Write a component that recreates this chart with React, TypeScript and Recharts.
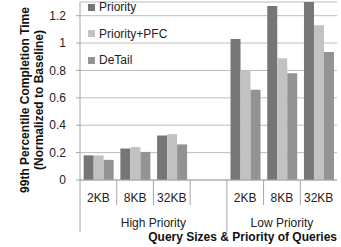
import React from 'react';
import { BarChart, Bar, XAxis, YAxis, CartesianGrid, Legend } from 'recharts';

// Query sizes per category slot (empty slot is the gap between the two groups)
const sizes = ['2KB', '8KB', '32KB', '', '2KB', '8KB', '32KB'];
const groups = ['High Priority', 'High Priority', 'High Priority', 'High Priority', 'Low Priority', 'Low Priority', 'Low Priority'];

const priority = [0.18, 0.23, 0.325, null, 1.03, 1.27, 1.3];
const priorityPfc = [0.18, 0.24, 0.335, null, 0.8, 0.89, 1.13];
const detail = [0.147, 0.205, 0.26, null, 0.66, 0.78, 0.935];

const yTicks = [0, 0.2, 0.4, 0.6, 0.8, 1, 1.2];

const series = [
  { key: 'priority', name: 'Priority', color: '#767676' },
  { key: 'priorityPfc', name: 'Priority+PFC', color: '#c2c2c2' },
  { key: 'detail', name: 'DeTail', color: '#939393' },
];

const data = sizes.map((size, i) => ({
  size: size || `gap${i}`,
  label: size,
  group: groups[i],
  priority: priority[i],
  priorityPfc: priorityPfc[i],
  detail: detail[i],
}));

const W = 341;
const H = 247;
const FONT = '"Liberation Sans", Arial, sans-serif';
const AXIS = '#a6a6a6';
const GRID = '#bdbdbd';
const MARGIN = { top: 2, right: 4, left: 0, bottom: 7 };
const Y_AXIS_W = 80;
const HALF_BAND = (W - MARGIN.left - MARGIN.right - Y_AXIS_W) / sizes.length / 2;

const SizeTick = (props: any) => {
  const { x, y, payload, index } = props;
  const half = payload && payload.offset ? payload.offset : HALF_BAND;
  const row = data[index];
  const left = x - half;
  const groupStart = index === 0 || groups[index] !== groups[index - 1];
  const groupIdx = groups.map((g, i) => i).filter((i) => groups[i] === row.group);
  const isMid = groupIdx.length % 2 === 1
    ? index === groupIdx[(groupIdx.length - 1) / 2]
    : index === groupIdx[groupIdx.length / 2];
  const groupX = groupIdx.length % 2 === 1 ? x : x - half;
  return (
    <g>
      <line x1={left} x2={left} y1={y} y2={y + (groupStart ? 52 : 25)} stroke={AXIS} />
      <text x={x} y={y + 22} textAnchor="middle" fontSize={12} fontFamily={FONT} fill="#222">
        {row.label}
      </text>
      {isMid && (
        <text x={groupX} y={y + 47} textAnchor="middle" fontSize={12} fontFamily={FONT} fill="#222">
          {row.group}
        </text>
      )}
    </g>
  );
};

const YTitle = (props: any) => {
  const vb = props.viewBox;
  const cy = vb.y + vb.height / 2 + 9;
  return (
    <g fontFamily={FONT} fontSize={12} fontWeight="bold" fill="#111" textAnchor="middle">
      <text x={29} y={cy} transform={`rotate(-90 29 ${cy})`}>99th Percentile Completion Time</text>
      <text x={43} y={cy} transform={`rotate(-90 43 ${cy})`}>(Normalized to Baseline)</text>
    </g>
  );
};

const XTitle = (props: any) => {
  const vb = props.viewBox;
  return (
    <text x={vb.x + vb.width} y={241} textAnchor="end" fontFamily={FONT} fontSize={12} fontWeight="bold" fill="#111">
      Query Sizes &amp; Priority of Queries
    </text>
  );
};

const LegendBox = () => (
  <div style={{ fontFamily: FONT, fontSize: 12, color: '#222' }}>
    {series.map((s) => (
      <div key={s.key} style={{ display: 'flex', alignItems: 'center', height: 26.5 }}>
        <span style={{ width: 7, height: 7, background: s.color, display: 'inline-block', marginRight: 4 }} />
        <span>{s.name}</span>
      </div>
    ))}
  </div>
);

export default function App() {
  return (
    <div style={{ position: 'absolute', left: 0, top: 0, background: '#fff' }}>
      <BarChart width={W} height={H} data={data} margin={MARGIN} barCategoryGap="10%" barGap={0}>
        <CartesianGrid vertical={false} stroke={GRID} />
        <XAxis
          dataKey="size"
          height={60}
          interval={0}
          tickSize={0}
          tickMargin={0}
          tickLine={false}
          stroke={AXIS}
          tick={<SizeTick />}
          label={{ content: XTitle }}
        />
        <YAxis
          width={Y_AXIS_W}
          domain={[0, 1.3]}
          ticks={yTicks}
          tickSize={4}
          tickMargin={10}
          stroke={AXIS}
          tick={{ fill: '#222', fontSize: 12, fontFamily: FONT }}
          label={{ content: YTitle }}
        />
        <Legend
          layout="vertical"
          verticalAlign="middle"
          align="center"
          wrapperStyle={{ left: 88, top: -6, width: 120, height: 80 }}
          content={<LegendBox />}
        />
        {series.map((s) => (
          <Bar key={s.key} dataKey={s.key} name={s.name} fill={s.color} isAnimationActive={false} />
        ))}
      </BarChart>
    </div>
  );
}
